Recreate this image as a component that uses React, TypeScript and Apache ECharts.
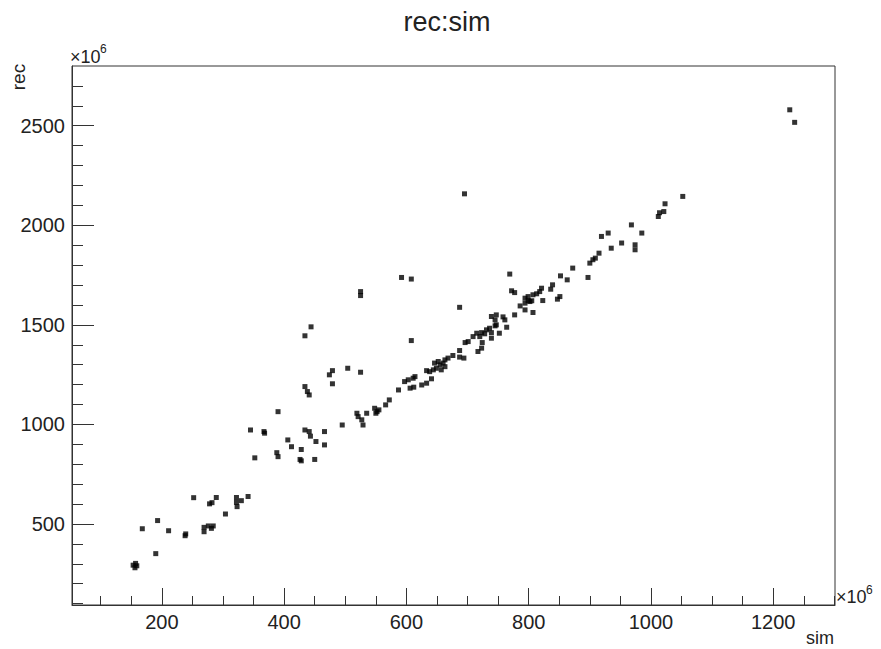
import React, { useEffect, useRef } from "react";
import * as echarts from "echarts";

// sim values (x), in units of 1e6
const SIM = [
  153, 156, 159, 157, 168, 190, 193, 211, 238, 239, 252, 269, 269, 276, 284, 281, 278, 282, 289, 304,
  322, 322, 323, 330, 341, 345, 352, 367, 368, 390, 388, 390, 406, 412, 426, 428, 428, 434, 441, 443,
  452, 450, 466, 466, 434, 438, 441, 474, 479, 479, 504, 525, 495, 519, 521, 527, 529, 535, 548, 552,
  555, 550, 566, 572, 587, 434, 444, 695, 592, 608, 525, 525, 687, 608, 597, 603, 611, 614, 606, 612,
  625, 633, 641, 633, 638, 644, 649, 655, 660, 663, 657, 646, 652, 663, 668, 676, 687, 687, 694, 696,
  701, 709, 715, 723, 731, 736, 745, 720, 728, 739, 724, 717, 723, 739, 752, 747, 745, 747, 739, 758,
  761, 764, 777, 786, 794, 799, 794, 807, 769, 772, 777, 794, 799, 805, 802, 807, 813, 818, 821, 823,
  836, 839, 847, 851, 852, 863, 872, 897, 900, 905, 909, 915, 919, 930, 935, 952, 968, 974, 974, 985,
  1023, 1021, 1014, 1012, 1052, 1227, 1235,
];

// rec values (y), in units of 1e6
const REC = [
  293, 280, 290, 302, 476, 351, 517, 466, 441, 450, 632, 483, 461, 490, 490, 478, 601, 607, 633, 550,
  633, 608, 587, 617, 638, 972, 832, 964, 956, 1064, 858, 838, 922, 888, 824, 817, 874, 972, 964, 941,
  914, 824, 964, 897, 1190, 1165, 1148, 1249, 1270, 1204, 1282, 1262, 997, 1056, 1039, 1023, 997, 1056, 1081, 1064,
  1073, 1056, 1098, 1123, 1173, 1445, 1490, 2158, 1738, 1730, 1667, 1647, 1588, 1421, 1215, 1224, 1232, 1240, 1182, 1187,
  1198, 1207, 1229, 1270, 1265, 1274, 1282, 1299, 1308, 1290, 1274, 1308, 1316, 1324, 1333, 1346, 1371, 1338, 1333, 1411,
  1416, 1441, 1458, 1461, 1475, 1483, 1495, 1441, 1455, 1461, 1411, 1366, 1383, 1433, 1458, 1500, 1525, 1550, 1542, 1540,
  1525, 1488, 1550, 1595, 1609, 1621, 1575, 1562, 1755, 1671, 1662, 1634, 1642, 1621, 1617, 1651, 1656, 1667, 1684, 1622,
  1679, 1701, 1629, 1642, 1746, 1726, 1785, 1738, 1810, 1827, 1835, 1860, 1944, 1961, 1885, 1911, 2002, 1902, 1877, 1961,
  2108, 2069, 2063, 2044, 2145, 2580, 2517,
];

const X_RANGE = [53, 1301];
const Y_RANGE = [93, 2800];
const X_MAJOR = [200, 400, 600, 800, 1000, 1200];
const X_MINOR = [100, 150, 250, 300, 350, 450, 500, 550, 650, 700, 750, 850, 900, 950, 1050, 1100, 1150, 1250, 1300];
const Y_MAJOR = [500, 1000, 1500, 2000, 2500];
const Y_MINOR = [100, 200, 300, 400, 600, 700, 800, 900, 1100, 1200, 1300, 1400, 1600, 1700, 1800, 1900, 2100, 2200, 2300, 2400, 2600, 2700];

const TITLE = "rec:sim";
const X_NAME = "sim";
const Y_NAME = "rec";

const FONT = "Liberation Sans, Arial, Helvetica, sans-serif";
const AX = "#333";
const TXT = "#222";

export default function App() {
  const ref = useRef<HTMLDivElement>(null);
  useEffect(() => {
    if (!ref.current) return;
    const chart = echarts.init(ref.current, undefined, { renderer: "svg" });
    const data = SIM.map((s, i) => [s, REC[i]]);
    const left = 72, top = 66, width = 763, height = 539;
    const baseAxis = (pos: string, range: number[]) => ({
      type: "value",
      position: pos,
      min: range[0],
      max: range[1],
      splitLine: { show: false },
    });
    chart.setOption({
      animation: false,
      backgroundColor: "#fff",
      grid: { left, top, width, height, show: true, borderColor: AX, borderWidth: 1, backgroundColor: "transparent" },
      xAxis: [
        {
          ...baseAxis("bottom", X_RANGE),
          axisLine: { show: true, lineStyle: { color: AX, width: 1 } },
          axisTick: { show: true, inside: true, length: 17, customValues: X_MAJOR, lineStyle: { color: AX } },
          axisLabel: { show: true, customValues: X_MAJOR, margin: 7, fontSize: 20, color: TXT, fontFamily: FONT, formatter: (v: number) => String(v) },
        },
        {
          ...baseAxis("bottom", X_RANGE),
          axisLine: { show: false },
          axisTick: { show: true, inside: true, length: 9, customValues: X_MINOR, lineStyle: { color: AX } },
          axisLabel: { show: false },
        },
      ],
      yAxis: [
        {
          ...baseAxis("left", Y_RANGE),
          axisLine: { show: true, lineStyle: { color: AX, width: 1 } },
          axisTick: { show: true, inside: true, length: 22, customValues: Y_MAJOR, lineStyle: { color: AX } },
          axisLabel: { show: true, customValues: Y_MAJOR, margin: 7, fontSize: 20, color: TXT, fontFamily: FONT, formatter: (v: number) => String(v) },
        },
        {
          ...baseAxis("left", Y_RANGE),
          axisLine: { show: false },
          axisTick: { show: true, inside: true, length: 11, customValues: Y_MINOR, lineStyle: { color: AX } },
          axisLabel: { show: false },
        },
      ],
      series: [
        {
          type: "scatter",
          xAxisIndex: 0,
          yAxisIndex: 0,
          data,
          symbol: "rect",
          symbolSize: 5,
          itemStyle: { color: "#000" },
          silent: true,
        },
      ],
      graphic: [
        { type: "text", x: 447, y: 22, style: { text: TITLE, fontSize: 27, fontFamily: FONT, fill: TXT, align: "center", verticalAlign: "middle" } },
        { type: "text", x: 18, y: 77, rotation: Math.PI / 2, style: { text: Y_NAME, fontSize: 19, fontFamily: FONT, fill: TXT, align: "center", verticalAlign: "middle" } },
        { type: "text", x: 834, y: 638, style: { text: X_NAME, fontSize: 18, fontFamily: FONT, fill: TXT, align: "right", verticalAlign: "middle" } },
        { type: "text", x: 70, y: 57, style: { text: "×10", fontSize: 18, fontFamily: FONT, fill: TXT, align: "left", verticalAlign: "middle" } },
        { type: "text", x: 100, y: 49, style: { text: "6", fontSize: 12, fontFamily: FONT, fill: TXT, align: "left", verticalAlign: "middle" } },
        { type: "text", x: 836, y: 597, style: { text: "×10", fontSize: 18, fontFamily: FONT, fill: TXT, align: "left", verticalAlign: "middle" } },
        { type: "text", x: 866, y: 590, style: { text: "6", fontSize: 12, fontFamily: FONT, fill: TXT, align: "left", verticalAlign: "middle" } },
      ],
    });
    return () => chart.dispose();
  }, []);
  return <div ref={ref} style={{ position: "fixed", left: 0, top: 0, width: 881, height: 649, background: "#fff" }} />;
}
